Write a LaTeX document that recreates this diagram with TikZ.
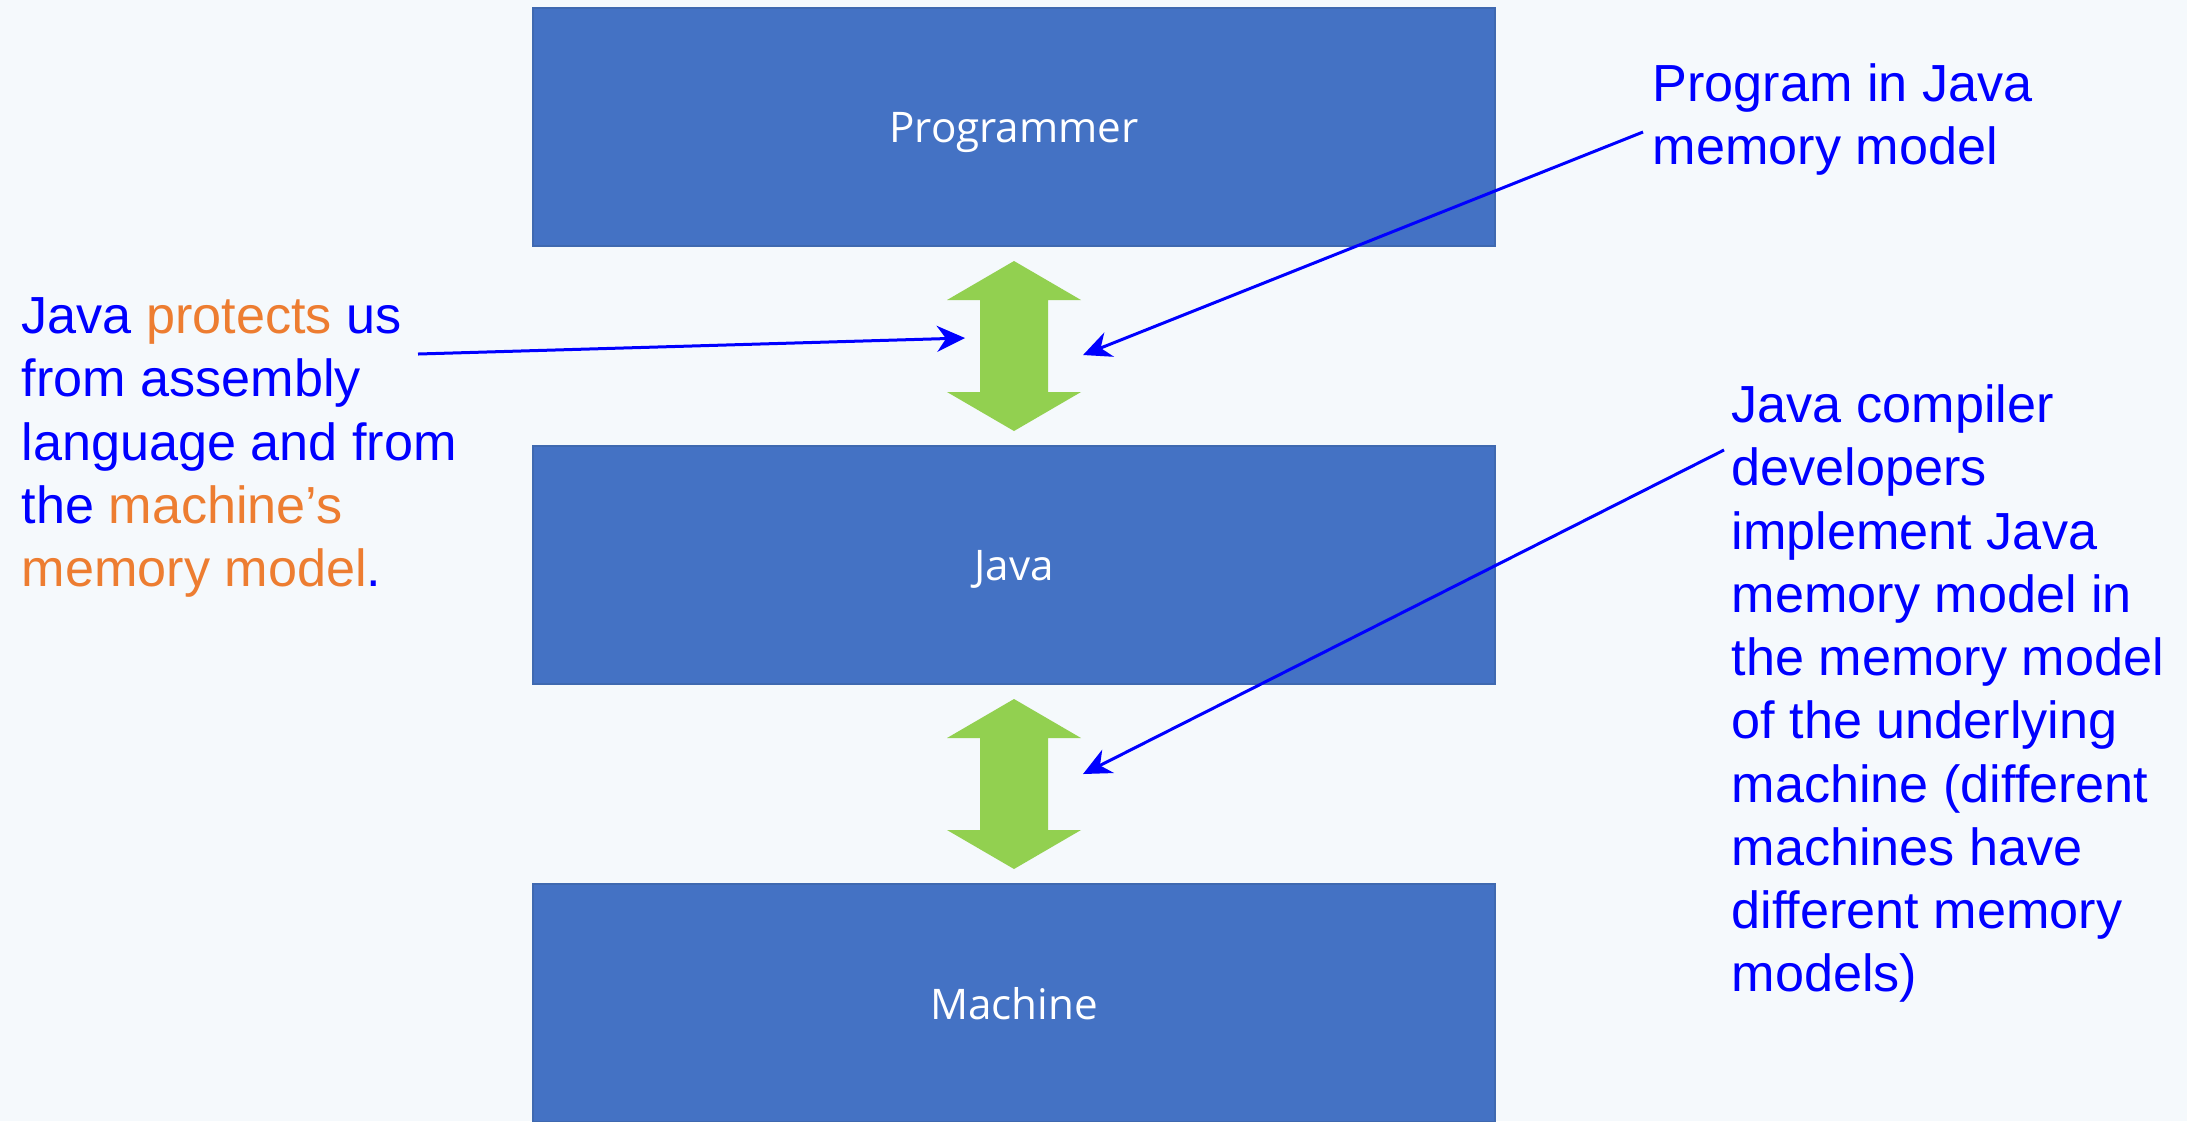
\documentclass[tikz,border=0pt]{standalone}
\usepackage{fontspec}
\setmainfont{Liberation Sans}
\newfontfamily\boxfont{Open Sans}
\usetikzlibrary{arrows.meta,calc,positioning}

\definecolor{paper}{HTML}{F5F9FC}
\definecolor{boxblue}{HTML}{4472C4}
\definecolor{boxedge}{HTML}{3F69B0}
\definecolor{leaf}{HTML}{92D050}
\definecolor{inkblue}{HTML}{0000FF}
\definecolor{accent}{HTML}{ED7D31}

\newcommand{\hl}[1]{\textcolor{accent}{#1}}
% green two-way arrow in the gap between two layers
\newcommand{\updown}[2]{%
  \path ($(#1.south)+(0,14)$) coordinate (t) ($(#2.north)+(0,-14)$) coordinate (b);
  \fill[leaf] (t) -- ++(67,39) -- ++(-33,0) -- ($(b)+(34,-39)$) -- ++(33,0)
    -- (b) -- ++(-67,-39) -- ++(33,0) -- ($(t)+(-34,39)$) -- ++(-33,0) -- cycle;
}

\tikzset{
  layer/.style={rectangle, fill=boxblue, draw=boxedge, line width=0.2mm,
    minimum width=96.2mm, minimum height=23.8mm, text=white, text depth=0pt,
    font=\boxfont\fontsize{12}{14}\selectfont},
  note/.style={anchor=north west, inner sep=0pt, align=left, text=inkblue,
    font=\fontsize{14.85}{18}\selectfont},
  pointer/.style={draw=inkblue, line width=0.3mm,
    -{Stealth[length=2.8mm,width=2.6mm,inset=0.9mm]}}
}

\begin{document}
\begin{tikzpicture}[x=0.1mm,y=-0.1mm]
\useasboundingbox (0,0) rectangle (2187,1121);
\fill[paper] (0,0) rectangle (2187,1121);
\clip (0,0) rectangle (2187,1121);

% the three layers
\node[layer] (prog) at (1014,127) {Programmer};
\node[layer, below=19.8mm of prog] (java) {Java};
\node[layer, below=19.8mm of java] (mach) {Machine};

\updown{prog}{java}
\updown{java}{mach}

% remarks
\node[note] (protect) at (21,297) {Java \hl{protects} us\\from assembly\\language and from\\the \hl{machine’s}\\\hl{memory model}.};
\node[note] (program) at (1652,63) {Program in Java\\memory model};
\node[note] (compiler) at (1731,384) {Java compiler\\developers\\implement Java\\memory model in\\the memory model\\of the underlying\\machine (different\\machines have\\different memory\\models)};

\coordinate (protect tail) at (418,354);
\coordinate (protect tip) at (965,338);
\coordinate (program tail) at (1643,132);
\coordinate (program tip) at (1083,355);
\coordinate (compiler tail) at (1724,450);
\coordinate (compiler tip) at (1083,774);

\draw[pointer] (protect tail) -- (protect tip);
\draw[pointer] (program tail) -- (program tip);
\draw[pointer] (compiler tail) -- (compiler tip);
\end{tikzpicture}
\end{document}
